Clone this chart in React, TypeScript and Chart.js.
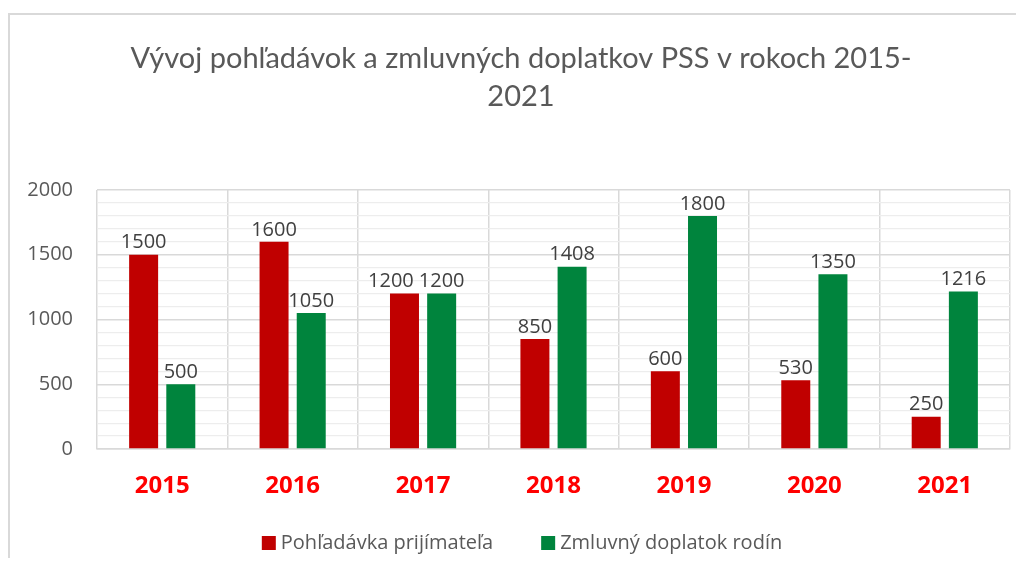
import React, { useEffect, useRef } from "react";
import { Chart, registerables } from "chart.js";

Chart.register(...registerables);

const years = ["2015", "2016", "2017", "2018", "2019", "2020", "2021"];
const pohladavka = [1500, 1600, 1200, 850, 600, 530, 250];
const doplatok = [500, 1050, 1200, 1408, 1800, 1350, 1216];
const seriesNames = ["Pohľadávka prijímateľa", "Zmluvný doplatok rodín"];
const seriesColors = ["#c00000", "#00843d"];
const titleLines = ["Vývoj pohľadávok a zmluvných doplatkov PSS v rokoch 2015-", "2021"];
const yGridValues = [0, 100, 200, 300, 400, 500, 600, 700, 800, 900, 1000, 1100, 1200, 1300, 1400, 1500, 1600, 1700, 1800, 1900, 2000];
const yLabelValues = [0, 500, 1000, 1500, 2000];

const FONT = "'Open Sans', 'Noto Sans', sans-serif";
const TITLE_FONT = "Lato, 'Open Sans', sans-serif";

const decorPlugin = {
  id: "decor",
  afterDatasetsDraw(chart: any) {
    const ctx = chart.ctx;
    ctx.save();
    ctx.font = `20px ${FONT}`;
    ctx.fillStyle = "#404040";
    ctx.textAlign = "center";
    ctx.textBaseline = "bottom";
    const metas = chart.data.datasets.map((_: any, di: number) => chart.getDatasetMeta(di));
    const n = chart.data.labels.length;
    for (let i = 0; i < n; i++) {
      const items = chart.data.datasets.map((ds: any, di: number) => {
        const bar = metas[di].data[i];
        const text = String(ds.data[i]);
        return { text, x: bar.x, y: bar.y - 2, w: ctx.measureText(text).width };
      });
      // avoid overlapping labels at the same height: push the left one further left
      for (let k = 0; k < items.length - 1; k++) {
        const a = items[k];
        const b = items[k + 1];
        if (Math.abs(a.y - b.y) < 20) {
          const overlap = a.x + a.w / 2 + 5 - (b.x - b.w / 2);
          if (overlap > 0) a.x -= overlap;
        }
      }
      items.forEach((it: any) => ctx.fillText(it.text, it.x, it.y));
    }
    ctx.restore();
  },
  afterDraw(chart: any) {
    const ctx = chart.ctx;
    ctx.save();
    // title
    ctx.font = `29px ${TITLE_FONT}`;
    ctx.fillStyle = "#595959";
    ctx.textAlign = "center";
    ctx.textBaseline = "middle";
    const tx = 511;
    ctx.fillText(titleLines[0], tx, 44);
    ctx.fillText(titleLines[1], tx, 82);
    // legend
    ctx.font = `20px ${FONT}`;
    const box = 14;
    const gap = 5;
    const itemGap = 48;
    const widths = chart.data.datasets.map((d: any) => ctx.measureText(d.label).width);
    const total = widths.reduce((a: number, w: number) => a + box + gap + w, 0) + itemGap * (widths.length - 1);
    let x = 512 - total / 2;
    const cy = 528;
    ctx.textAlign = "left";
    ctx.textBaseline = "middle";
    chart.data.datasets.forEach((d: any, i: number) => {
      ctx.fillStyle = d.backgroundColor;
      ctx.fillRect(x, cy - box / 2, box, box);
      ctx.fillStyle = "#595959";
      ctx.fillText(d.label, x + box + gap, cy);
      x += box + gap + widths[i] + itemGap;
    });
    ctx.restore();
  },
};

export default function App() {
  const ref = useRef<HTMLCanvasElement | null>(null);
  useEffect(() => {
    if (!ref.current) return;
    const chart = new Chart(ref.current, {
      type: "bar",
      data: {
        labels: years,
        datasets: [
          { label: seriesNames[0], data: pohladavka, backgroundColor: seriesColors[0], categoryPercentage: 0.57, barPercentage: 0.78 },
          { label: seriesNames[1], data: doplatok, backgroundColor: seriesColors[1], categoryPercentage: 0.57, barPercentage: 0.78 },
        ],
      },
      options: {
        responsive: false,
        animation: false,
        layout: { padding: { top: 175, left: 0, right: 6, bottom: 54 } },
        plugins: {
          legend: { display: false },
          title: { display: false },
          tooltip: { enabled: false },
        },
        scales: {
          x: {
            grid: { offset: true, color: "#d9d9d9", drawTicks: false, lineWidth: 1.5 },
            border: { color: "#d9d9d9", width: 1.5 },
            ticks: {
              color: "#ff0000",
              font: { family: FONT, size: 24, weight: "bold" },
              padding: 23,
            },
            afterFit: (scale: any) => {
              scale.height = 60;
            },
          },
          y: {
            min: 0,
            max: 2000,
            afterBuildTicks: (scale: any) => {
              scale.ticks = yGridValues.map((v) => ({ value: v }));
            },
            afterFit: (scale: any) => {
              scale.width = 87;
            },
            grid: {
              drawTicks: false,
              color: (c: any) => (c.tick && yLabelValues.includes(c.tick.value) ? "#d9d9d9" : "#ededed"),
              lineWidth: (c: any) => (c.tick && yLabelValues.includes(c.tick.value) ? 1.5 : 1.2),
            },
            border: { display: false },
            ticks: {
              autoSkip: false,
              color: "#595959",
              font: { family: FONT, size: 20 },
              padding: 24,
              callback: (v: any) => (yLabelValues.includes(Number(v)) ? String(v) : ""),
            },
          },
        },
      },
      plugins: [decorPlugin],
    });
    return () => chart.destroy();
  }, []);
  return (
    <div
      style={{
        position: "relative",
        top: 5,
        width: 1008,
        borderTop: "2px solid #d9d9d9",
        borderLeft: "2px solid #d9d9d9",
        background: "#fff",
      }}
    >
      <canvas ref={ref} width={1006} height={548} style={{ display: "block" }} />
    </div>
  );
}
